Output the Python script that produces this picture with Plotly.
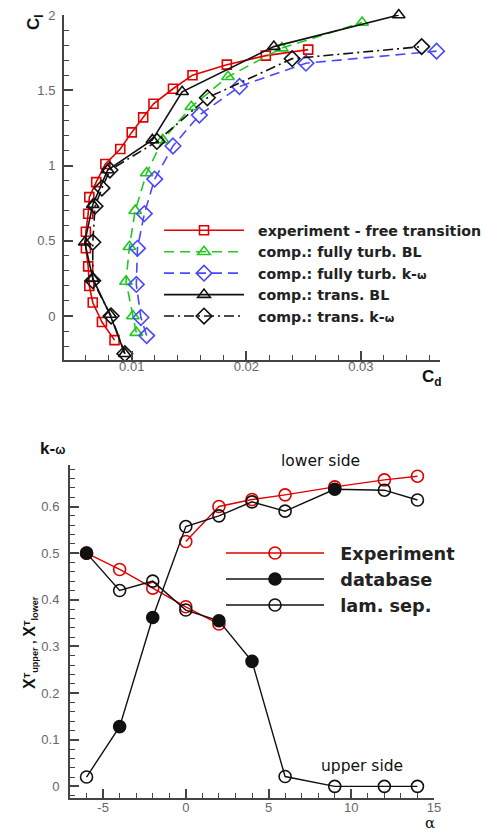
import plotly.graph_objects as go

W, H = 483, 832

# ---------------- polar data: drag coefficient vs lift coefficient ----------------
exp_cd = [0.0085, 0.0074, 0.0066, 0.0063, 0.0062, 0.0060, 0.0060, 0.0062, 0.0063, 0.0069,
          0.0077, 0.0090, 0.0100, 0.0110, 0.0119, 0.0136, 0.0153, 0.0183, 0.0217, 0.0254]
exp_cl = [-0.16, -0.04, 0.09, 0.20, 0.33, 0.45, 0.56, 0.68, 0.79, 0.89,
          1.01, 1.11, 1.22, 1.32, 1.41, 1.51, 1.60, 1.67, 1.73, 1.77]

ftbl_cd = [0.0104, 0.0101, 0.0095, 0.0098, 0.0103, 0.0113, 0.0127, 0.0152, 0.0184, 0.0231, 0.0301]
ftbl_cl = [-0.11, 0.00, 0.23, 0.46, 0.70, 0.95, 1.17, 1.39, 1.59, 1.78, 1.95]

ftkw_cd = [0.0113, 0.0108, 0.0104, 0.0105, 0.0111, 0.0120, 0.0136, 0.0159, 0.0194, 0.0252, 0.0366]
ftkw_cl = [-0.13, -0.01, 0.21, 0.45, 0.68, 0.91, 1.13, 1.335, 1.525, 1.68, 1.76]

trbl_cd = [0.0094, 0.0081, 0.0066, 0.0059, 0.0066, 0.0079, 0.0118, 0.0144, 0.0224, 0.0333]
trbl_cl = [-0.25, 0.01, 0.25, 0.49, 0.74, 0.97, 1.17, 1.49, 1.79, 2.00]

trkw_cd = [0.0094, 0.0082, 0.0066, 0.0066, 0.0068, 0.0074, 0.0081, 0.0122, 0.0166, 0.0240, 0.0353]
trkw_cl = [-0.25, 0.00, 0.235, 0.49, 0.73, 0.85, 0.97, 1.16, 1.45, 1.71, 1.79]

# ---------------- transition location vs angle of attack ----------------
alpha = [-6, -4, -2, 0, 2, 4, 6, 9, 12, 14]

exp_low_alpha = [0, 2, 4, 6, 9, 12, 14]
exp_low_xt = [0.525, 0.600, 0.615, 0.625, 0.642, 0.657, 0.665]
exp_up_alpha = [-6, -4, -2, 0, 2]
exp_up_xt = [0.500, 0.465, 0.425, 0.385, 0.348]

comp_low_xt = [0.020, 0.128, 0.362, 0.557, 0.580, 0.610, 0.590, 0.637, 0.635, 0.614]
comp_low_src = ["lam", "db", "db", "lam", "lam", "lam", "lam", "db", "lam", "lam"]
comp_up_xt = [0.500, 0.420, 0.440, 0.378, 0.355, 0.268, 0.021, 0.000, 0.000, 0.000]
comp_up_src = ["db", "lam", "lam", "lam", "db", "db", "lam", "lam", "lam", "lam"]

RED = "#e00000"
GREEN = "#1ec81e"
BLUE = "#4848ff"
BLACK = "#111111"
CLEAR = "rgba(255,255,255,0)"
FONT = "Liberation Sans, Arial, sans-serif"
LFONT = "DejaVu Sans, sans-serif"
NB = "\u00a0\u00a0"
OMEGA = "<span style='font-size:11px'>ω</span>"

fig = go.Figure()


def polar(x, y, name, color, dash, symbol, size):
    fig.add_trace(go.Scatter(
        x=x, y=y, name=NB + name, mode="lines+markers", cliponaxis=False,
        line=dict(color=color, width=1.6, dash=dash),
        marker=dict(symbol=symbol, size=size, color=CLEAR,
                    line=dict(color=color, width=1.6)),
        xaxis="x", yaxis="y", legend="legend"))


polar(exp_cd, exp_cl, "<b>experiment - free transition</b>", RED, "solid", "square", 9)
polar(ftbl_cd, ftbl_cl, "<b>comp.: fully turb. BL</b>", GREEN, "10px,6px", "triangle-up", 11)
polar(ftkw_cd, ftkw_cl, "<b>comp.: fully turb. k-" + OMEGA + "</b>", BLUE, "10px,6px", "diamond", 12)
polar(trbl_cd, trbl_cl, "<b>comp.: trans. BL</b>", BLACK, "solid", "triangle-up", 11)
polar(trkw_cd, trkw_cl, "<b>comp.: trans. k-" + OMEGA + "</b>", BLACK, "10px,4px,2px,4px",
      "diamond", 12)

# experiment, both sides
for a, v in ((exp_low_alpha, exp_low_xt), (exp_up_alpha, exp_up_xt)):
    fig.add_trace(go.Scatter(
        x=a, y=v, mode="lines+markers", showlegend=False, cliponaxis=False,
        line=dict(color=RED, width=1.4),
        marker=dict(symbol="circle", size=12, color=CLEAR, line=dict(color=RED, width=1.6)),
        xaxis="x2", yaxis="y2"))

# computation, both sides: filled = database, open = laminar separation
for v, src in ((comp_low_xt, comp_low_src), (comp_up_xt, comp_up_src)):
    fig.add_trace(go.Scatter(
        x=alpha, y=v, mode="lines+markers", showlegend=False, cliponaxis=False,
        line=dict(color=BLACK, width=1.4),
        marker=dict(symbol="circle", size=12,
                    color=[BLACK if s == "db" else CLEAR for s in src],
                    line=dict(color=BLACK, width=1.6)),
        xaxis="x2", yaxis="y2"))

# legend entries for the lower panel
for name, color, fill in (("Experiment", RED, CLEAR),
                          ("database", BLACK, BLACK),
                          ("lam. sep.", BLACK, CLEAR)):
    fig.add_trace(go.Scatter(
        x=[None], y=[None], name=NB + "<b>%s</b>" % name, mode="lines+markers",
        line=dict(color=color, width=1.4),
        marker=dict(symbol="circle", size=12, color=fill, line=dict(color=color, width=1.6)),
        xaxis="x2", yaxis="y2", legend="legend2"))

axis_common = dict(
    showline=True, linecolor="#444", linewidth=2, showgrid=False, zeroline=False,
    ticks="inside", ticklen=9, tickwidth=1.6, tickcolor="#444",
    tickfont=dict(family=FONT, size=13, color="#666"), mirror=False,
)
minor_common = dict(ticks="inside", ticklen=5, tickcolor="#444", tickwidth=1, tick0=0)

fig.update_layout(
    width=W, height=H, autosize=False,
    margin=dict(l=0, r=0, t=0, b=0, autoexpand=False),
    paper_bgcolor="white", plot_bgcolor="white",
    font=dict(family=FONT, color="#111"),
    xaxis=dict(axis_common, domain=[64 / W, 440 / W], range=[0.00409, 0.0369],
               tickvals=[0.01, 0.02, 0.03], ticktext=["0.01", "0.02", "0.03"],
               minor=dict(minor_common, dtick=0.002),
               ticklabelstandoff=-7, anchor="y"),
    yaxis=dict(axis_common, domain=[1 - 360 / H, 1 - 15 / H], range=[-0.292, 2.0],
               tickvals=[0, 0.5, 1, 1.5, 2], ticktext=["0", "0.5", "1", "1.5", "2"],
               minor=dict(minor_common, dtick=0.1),
               ticklabelstandoff=4, anchor="x"),
    xaxis2=dict(axis_common, domain=[70 / W, 434 / W], range=[-7, 15],
                tickvals=[-5, 0, 5, 10, 15], ticktext=["-5", "0", "5", "10", "15"],
                minor=dict(minor_common, dtick=1),
                ticklabelstandoff=-4, anchor="y2"),
    yaxis2=dict(axis_common, domain=[1 - 798 / H, 1 - 465 / H], range=[-0.025, 0.689],
                tickvals=[0, 0.1, 0.2, 0.3, 0.4, 0.5, 0.6],
                ticktext=["0", "0.1", "0.2", "0.3", "0.4", "0.5", "0.6"],
                minor=dict(minor_common, dtick=0.02),
                ticklabelstandoff=6, anchor="x2"),
    legend=dict(x=159 / W, y=1 - 214.5 / H, xanchor="left", yanchor="top",
                bgcolor=CLEAR, itemwidth=80, tracegroupgap=0,
                font=dict(family=LFONT, size=14.2, color="#222")),
    legend2=dict(x=221 / W, y=1 - 535 / H, xanchor="left", yanchor="top",
                 bgcolor=CLEAR, itemwidth=98, tracegroupgap=0,
                 font=dict(family=LFONT, size=17.7, color="#222")),
)

annotations = [
    dict(text="<b>C<sub>l</sub></b>", x=35 / W, y=1 - 22 / H, textangle=-90,
         font=dict(size=17, color="#111")),
    dict(text="<b>C<sub>d</sub></b>", x=432 / W, y=1 - 378 / H, font=dict(size=17, color="#111")),
    dict(text="<b>k-<span style='font-size:12px'>ω</span></b>", x=52 / W, y=1 - 448 / H,
         font=dict(size=17, color="#111")),
    dict(text="lower side", x=320 / W, y=1 - 461 / H,
         font=dict(family=LFONT, size=15.5, color="#111")),
    dict(text="upper side", x=362 / W, y=1 - 766 / H,
         font=dict(family=LFONT, size=15.5, color="#111")),
    dict(text="α", x=430 / W, y=1 - 823 / H, font=dict(size=15, color="#111",
                                                         family="DejaVu Serif, serif")),
    dict(text="<b><span style='font-size:16px'>X</span><sup>T</sup><sub>upper</sub> , "
              "<span style='font-size:16px'>X</span><sup>T</sup><sub>lower</sub></b>",
         x=30 / W, y=1 - 643 / H, textangle=-90, font=dict(size=13, color="#111")),
]
for a in annotations:
    a.update(xref="paper", yref="paper", showarrow=False, xanchor="center", yanchor="middle")
fig.update_layout(annotations=annotations)

fig.write_html("out.html")
